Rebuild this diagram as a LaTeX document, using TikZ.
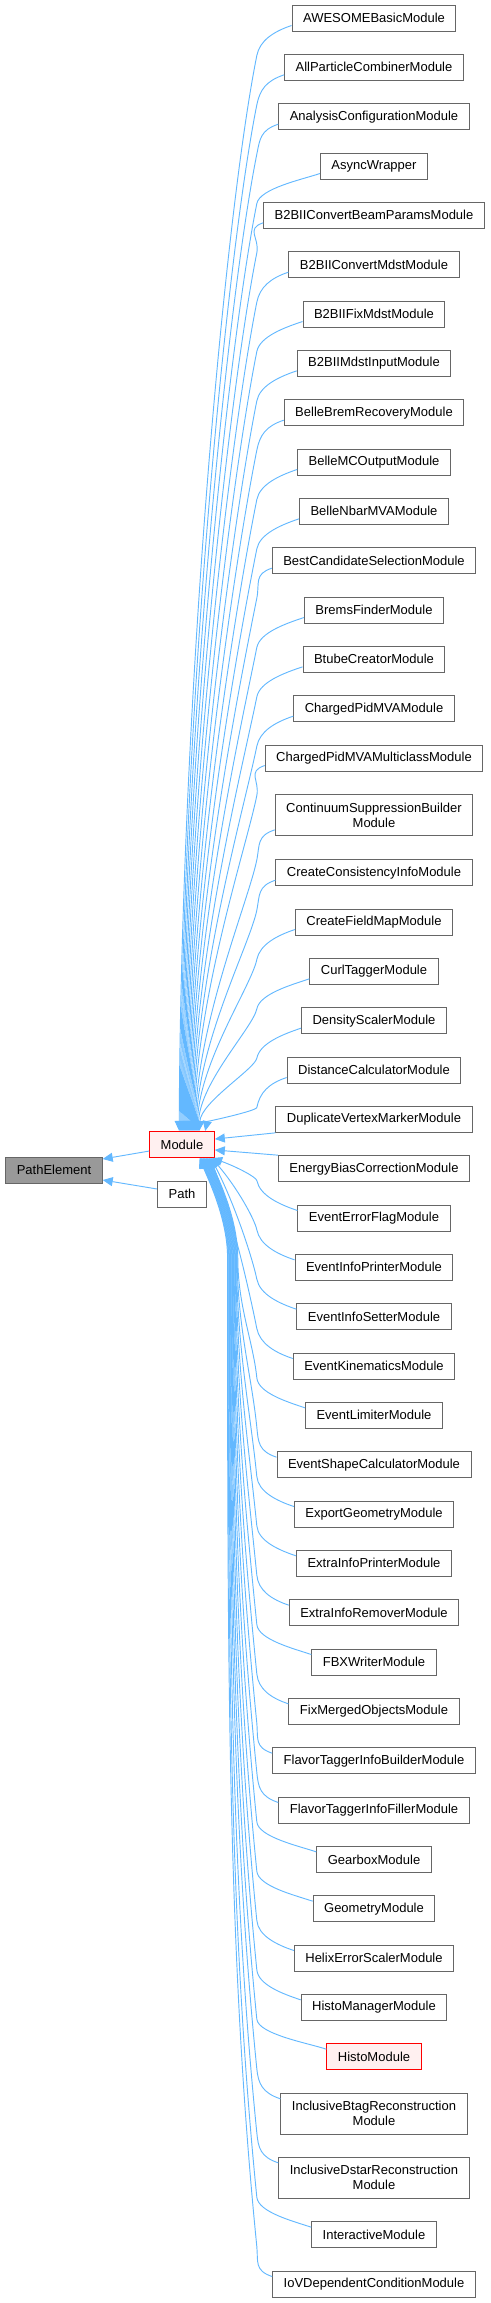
\documentclass[tikz,border=0pt]{standalone}
\usepackage{fontspec}
\setmainfont{Liberation Sans}
\usepackage{tikz}
\usetikzlibrary{
    arrows.meta,
    calc
}
\definecolor{edgeblue}{HTML}{63B8FF}
\definecolor{boxgray}{HTML}{666666}
\definecolor{basegray}{HTML}{999999}
\definecolor{hlfill}{HTML}{FFF0F0}
\tikzset{
    cls/.style={draw=boxgray, line width=0.75pt, fill=white, inner xsep=8.25pt, inner ysep=2pt,
        minimum height=19.5pt, align=center, font=\fontsize{9.75}{11.25}\selectfont},
    twoline/.style={minimum height=30.5pt},
    hl/.style={draw=red, fill=hlfill},
    base/.style={fill=basegray},
    edge/.style={draw=edgeblue, line width=0.7pt, -{Triangle[length=7.5pt,width=6.75pt]}}
}

\begin{document}
\begin{tikzpicture}[x=0.75pt, y=-0.75pt]

\useasboundingbox (0,0) rectangle (491,2303);

% Base classes
\node[cls, base] (pe) at (54,1170) {PathElement};
\node[cls, hl] (mod) at (182,1144.5) {Module};
\node[cls] (path) at (182,1194) {Path};

% Derived modules
\node[cls] (awesome) at (374,18) {AWESOMEBasicModule};
\node[cls] (allpart) at (374,67.33) {AllParticleCombinerModule};
\node[cls] (anaconf) at (374,116.67) {AnalysisConfigurationModule};
\node[cls] (async) at (374,166) {AsyncWrapper};
\node[cls] (cvbeam) at (374,215.33) {B2BIIConvertBeamParamsModule};
\node[cls] (cvmdst) at (374,264.67) {B2BIIConvertMdstModule};
\node[cls] (fixmdst) at (374,314) {B2BIIFixMdstModule};
\node[cls] (mdstin) at (374,363.33) {B2BIIMdstInputModule};
\node[cls] (brem) at (374,412.67) {BelleBremRecoveryModule};
\node[cls] (mcout) at (374,462) {BelleMCOutputModule};
\node[cls] (nbar) at (374,511.33) {BelleNbarMVAModule};
\node[cls] (bestcand) at (374,560.67) {BestCandidateSelectionModule};
\node[cls] (bremsf) at (374,610) {BremsFinderModule};
\node[cls] (btube) at (374,659.33) {BtubeCreatorModule};
\node[cls] (pidmva) at (374,708.67) {ChargedPidMVAModule};
\node[cls] (pidmulti) at (374,758) {ChargedPidMVAMulticlassModule};
\node[cls, twoline] (csbuild) at (374,815) {ContinuumSuppressionBuilder\\Module};
\node[cls] (consist) at (374,872.67) {CreateConsistencyInfoModule};
\node[cls] (fieldmap) at (374,922) {CreateFieldMapModule};
\node[cls] (curl) at (374,971.33) {CurlTaggerModule};
\node[cls] (density) at (374,1020.67) {DensityScalerModule};
\node[cls] (distcalc) at (374,1070) {DistanceCalculatorModule};
\node[cls] (dupvtx) at (374,1119.33) {DuplicateVertexMarkerModule};
\node[cls] (ebias) at (374,1168.67) {EnergyBiasCorrectionModule};
\node[cls] (errflag) at (374,1218) {EventErrorFlagModule};
\node[cls] (infoprint) at (374,1267.33) {EventInfoPrinterModule};
\node[cls] (infoset) at (374,1316.67) {EventInfoSetterModule};
\node[cls] (kinem) at (374,1366) {EventKinematicsModule};
\node[cls] (limiter) at (374,1415.33) {EventLimiterModule};
\node[cls] (shape) at (374,1464.67) {EventShapeCalculatorModule};
\node[cls] (expgeo) at (374,1514) {ExportGeometryModule};
\node[cls] (xprint) at (374,1563.33) {ExtraInfoPrinterModule};
\node[cls] (xremove) at (374,1612.67) {ExtraInfoRemoverModule};
\node[cls] (fbx) at (374,1662) {FBXWriterModule};
\node[cls] (fixmerged) at (374,1711.33) {FixMergedObjectsModule};
\node[cls] (ftbuild) at (374,1760.67) {FlavorTaggerInfoBuilderModule};
\node[cls] (ftfill) at (374,1810) {FlavorTaggerInfoFillerModule};
\node[cls] (gearbox) at (374,1859.33) {GearboxModule};
\node[cls] (geometry) at (374,1908.67) {GeometryModule};
\node[cls] (helix) at (374,1958) {HelixErrorScalerModule};
\node[cls] (histoman) at (374,2007.33) {HistoManagerModule};
\node[cls, hl] (histo) at (374,2056.67) {HistoModule};
\node[cls, twoline] (btagrec) at (374,2113.67) {InclusiveBtagReconstruction\\Module};
\node[cls, twoline] (dstarrec) at (374,2177.67) {InclusiveDstarReconstruction\\Module};
\node[cls] (interact) at (374,2234.67) {InteractiveModule};
\node[cls] (iovcond) at (374,2284) {IoVDependentConditionModule};

% Inheritance of PathElement
\draw[edge] ([yshift=-4.9pt]mod.west) -- ([yshift=8.25pt]pe.east);
\draw[edge] ([yshift=3.75pt]path.west) -- ([yshift=-7.5pt]pe.east);

% Modules above: bend near the box, then down the trunk
\foreach \m/\dx in {awesome/30, allpart/31, anaconf/32, async/33, cvbeam/34,
    cvmdst/35, fixmdst/36, mdstin/37, brem/38, mcout/39, nbar/40, bestcand/41,
    bremsf/42, btube/43, pidmva/44, pidmulti/45, csbuild/46, consist/47,
    fieldmap/48, curl/49, density/50, distcalc/56}
  \draw[edge] let \p1=($(\m.south west)+(0,-6)$), \p2=($(mod.north west)+(\dx,0)$),
      \p4=(mod.east), \p3=(\x4+31.5pt, \y1-22.5pt), \n1={\y3-\y2} in
    (\p1) .. controls (\x1-13.5pt, \y1-4.5pt) and (\x3+2.25pt, \y3+11.25pt) .. (\p3)
    .. controls (\x3-0.03*\n1*1pt, \y3-0.15*\n1*1pt) and (\x2+1.5pt, \y2+0.4*\n1*1pt) .. (\p2);

% Modules beside
\draw[edge] (dupvtx.south west) -- ([yshift=4.1pt]mod.east);
\draw[edge] (ebias.north west) -- ([yshift=-4.1pt]mod.east);

% Modules just below
\foreach \m/\dx in {errflag/63, infoprint/62.4, infoset/61.8, kinem/61.2}
  \draw[edge] let \p1=($(\m.north west)+(0,6)$), \p2=($(mod.south west)+(\dx,0)$),
      \p4=(mod.east), \p3=(\x4+31.5pt, \y1+22.5pt), \n1={\y2-\y3} in
    (\p1) .. controls (\x1-13.5pt, \y1+4.5pt) and (\x3+2.25pt, \y3-11.25pt) .. (\p3)
    .. controls (\x3-0.03*\n1*1pt, \y3+0.15*\n1*1pt) and (\x2+18.75pt, \y2-0.4*\n1*1pt) .. (\p2);

% Modules further below: bend, trunk, bend into Module
\foreach \m/\dx in {limiter/60.6, shape/60, expgeo/59.4, xprint/58.8, xremove/58.2,
    fbx/57.6, fixmerged/57, ftbuild/56.4, ftfill/55.8, gearbox/55.2, geometry/54.6,
    helix/54, histoman/53.4, histo/52.8, btagrec/52.2, dstarrec/51.6,
    interact/51, iovcond/50.4}
  \draw[edge] let \p1=($(\m.north west)+(0,6)$), \p2=($(mod.south west)+(\dx,0)$),
      \p4=(mod.east), \p3=(\x4+31.5pt, \y1+22.5pt), \p5=(\x2+21pt, \y2-75pt),
      \n1={\y5-\y3} in
    (\p1) .. controls (\x1-13.5pt, \y1+4.5pt) and (\x3+1.1pt, \y3-11.25pt) .. (\p3)
    .. controls (\x3-0.03*\n1*1pt, \y3+0.3*\n1*1pt) and (\x5, \y5-0.4*\n1*1pt) .. (\p5)
    .. controls (\x5, \y5+30pt) and (\x2+6pt, \y2-15pt) .. (\p2);

\end{tikzpicture}
\end{document}
